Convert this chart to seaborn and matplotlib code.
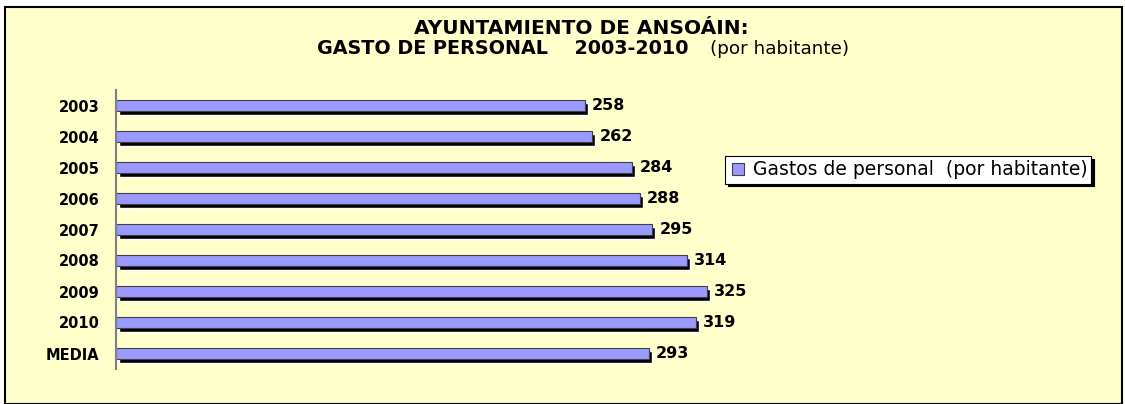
import matplotlib
matplotlib.use("Agg")
import matplotlib.pyplot as plt
import matplotlib.transforms as mtransforms
from matplotlib.patches import Rectangle
from matplotlib.lines import Line2D
import seaborn as sns
import pandas as pd

categories = ["2003", "2004", "2005", "2006", "2007", "2008", "2009", "2010", "MEDIA"]
values = [258, 262, 284, 288, 295, 314, 325, 319, 293]
series_name = "Gastos de personal  (por habitante)"

df = pd.DataFrame({"cat": categories, "val": values})

sns.set_theme(style="white")
plt.rcParams['font.family'] = ['DejaVu Sans']
plt.rcParams['text.color'] = 'black'

W, H = 1125, 404
fig = plt.figure(figsize=(W / 100, H / 100), dpi=100)
fig.patch.set_facecolor("white")

# panel background
panel = Rectangle((5 / W, 0), (1122 - 5) / W, 1 - 7 / H, transform=fig.transFigure,
                  facecolor="#FFFFCC", edgecolor="black", linewidth=1.5, zorder=-10)
fig.patches.append(panel)

ax = fig.add_axes([116 / W, 1 - 369 / H, (716 - 116) / W, (369 - 90) / H])
ax.set_facecolor("none")
ax.set_zorder(2)

# shadow bars
sns.barplot(data=df, x="val", y="cat", orient="h", color="black", width=0.38,
            saturation=1, ax=ax, order=categories)
offset = mtransforms.ScaledTranslation(3 / 100, -3.5 / 100, fig.dpi_scale_trans)
for p in ax.patches:
    p.set_transform(ax.transData + offset)
    p.set_zorder(1)
n_shadow = len(ax.patches)

sns.barplot(data=df, x="val", y="cat", orient="h", color="#9999FF", width=0.38,
            saturation=1, ax=ax, order=categories, edgecolor="#404040", linewidth=0.8)
for p in ax.patches[n_shadow:]:
    p.set_zorder(2)

for i, v in enumerate(values):
    ax.annotate(str(v), xy=(v, i), xytext=(5, 0), textcoords="offset points",
                ha="left", va="center", fontsize=11.5, fontweight="bold", color="black")

ax.set_xlim(0, 330)
ax.set_ylim(8.5, -0.5)
ax.set_xlabel("")
ax.set_ylabel("")
ax.set_xticks([])
for s in ["top", "right", "bottom"]:
    ax.spines[s].set_visible(False)
ax.spines["left"].set_color("#808080")
ax.spines["left"].set_linewidth(1.5)
ax.tick_params(axis="y", length=0, pad=12)
for lbl in ax.get_yticklabels():
    lbl.set_fontweight("bold")
    lbl.set_fontsize(10.5)
    lbl.set_color("black")

# titles
fig.text(581 / W, 1 - 29 / H, "AYUNTAMIENTO DE ANSOÁIN:", ha="center", va="center",
         fontsize=14.5, fontweight="bold", color="black")
fig.text(317 / W, 1 - 49 / H, "GASTO DE PERSONAL    2003-2010", ha="left", va="center",
         fontsize=13.8, fontweight="bold", color="black")
fig.text(710 / W, 1 - 49 / H, "(por habitante)", ha="left", va="center", fontsize=13.2,
         color="black")

handle = Line2D([], [], linestyle="none", marker="s", markersize=8.5,
                markerfacecolor="#9999FF", markeredgecolor="#404040", markeredgewidth=0.8)
leg = fig.legend([handle], [series_name], loc="center left",
                 bbox_to_anchor=(725 / W, 1 - 170 / H), frameon=True, fancybox=False,
                 shadow={"color": "black", "alpha": 1}, edgecolor="black", fontsize=13.5,
                 handlelength=0.9, handletextpad=0.35,
                 borderpad=0.22, borderaxespad=0)
leg.get_frame().set_linewidth(0.8)
leg.get_frame().set_facecolor("white")
for t in leg.get_texts():
    t.set_color("black")

fig.savefig("out.png", dpi=100, facecolor="white")
